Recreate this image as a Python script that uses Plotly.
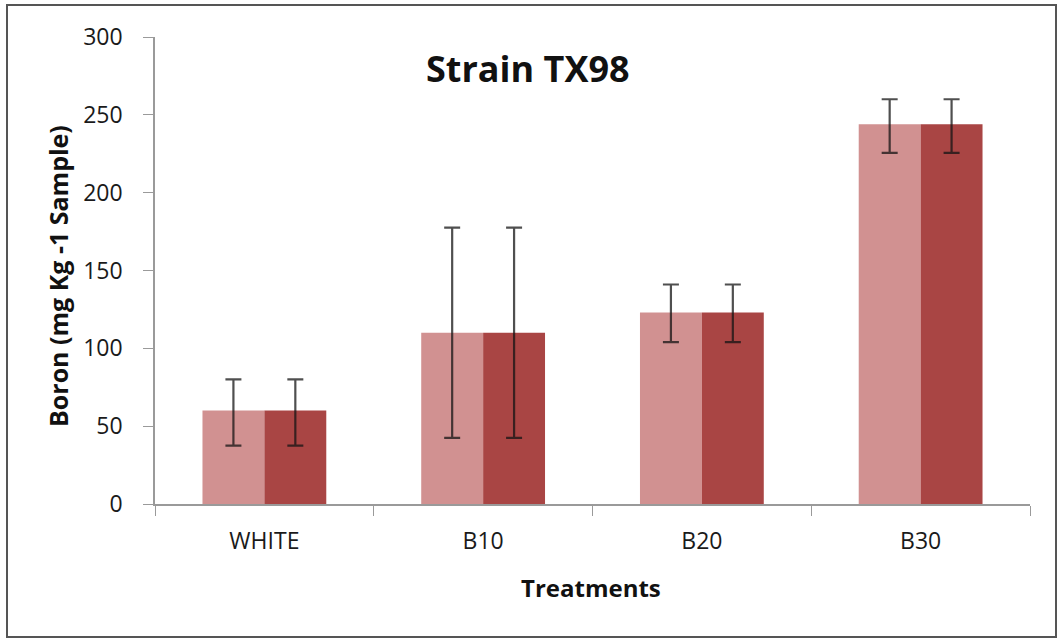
import plotly.graph_objects as go

categories = ["WHITE", "B10", "B20", "B30"]
series1_values = [60, 110, 123, 244]
series2_values = [60, 110, 123, 244]
err_plus = [20, 67.5, 18, 16]
err_minus = [22.5, 67.5, 19, 18.5]

FONT = "Open Sans"
W, H = 1061, 641
ML, MR, MT, MB = 155, 31, 37, 137

fig = go.Figure()
for vals, col in [(series1_values, "#D19191"), (series2_values, "#A94544")]:
    fig.add_trace(go.Bar(
        x=categories, y=vals, marker=dict(color=col, line=dict(width=0)),
        error_y=dict(type="data", symmetric=False, array=err_plus, arrayminus=err_minus,
                     color="rgba(20,20,20,0.75)", thickness=2.2, width=8),
        showlegend=False,
    ))

pw = W - ML - MR
ph = H - MT - MB

def px_x(x):
    return (x - ML) / pw

def px_y(y):
    return (H - MB - y) / ph

fig.update_layout(
    width=W, height=H,
    margin=dict(l=ML, r=MR, t=MT, b=MB, autoexpand=False),
    paper_bgcolor="white", plot_bgcolor="white",
    barmode="group", bargap=0.434, bargroupgap=0,
    font=dict(family=FONT, color="#222222"),
    xaxis=dict(
        showline=True, linecolor="#9a9a9a", linewidth=1.5,
        ticks="outside", tickson="boundaries", ticklen=10, tickcolor="#9a9a9a",
        tickfont=dict(size=23, color="#1a1a1a"), showgrid=False, ticklabelstandoff=16,
    ),
    yaxis=dict(
        range=[0, 300], dtick=50, showline=True, linecolor="#9a9a9a", linewidth=1.5,
        ticks="outside", ticklen=10, tickcolor="#9a9a9a",
        tickfont=dict(size=23, color="#1a1a1a"), showgrid=False, zeroline=False,
        ticklabelstandoff=16,
    ),
    annotations=[
        dict(text="<b>Strain TX98</b>", x=px_x(528), y=px_y(69), xref="paper", yref="paper",
             showarrow=False, font=dict(size=36, family=FONT, color="#111111"),
             xanchor="center", yanchor="middle"),
        dict(text="<b>Boron (mg Kg -1 Sample)</b>", x=px_x(58), y=px_y(276), xref="paper", yref="paper",
             showarrow=False, font=dict(size=25, family=FONT, color="#111111"), textangle=-90,
             xanchor="center", yanchor="middle"),
        dict(text="<b>Treatments</b>", x=px_x(591), y=px_y(587), xref="paper", yref="paper",
             showarrow=False, font=dict(size=24, family=FONT, color="#111111"),
             xanchor="center", yanchor="middle"),
    ],
    shapes=[
        dict(type="rect", xref="paper", yref="paper",
             x0=px_x(7), x1=px_x(1056), y0=px_y(637), y1=px_y(5),
             line=dict(color="#555555", width=2), fillcolor="rgba(0,0,0,0)", layer="below"),
    ],
)

fig.write_html("out.html", config={"displayModeBar": False},
               post_script="document.body.style.margin='0';")
